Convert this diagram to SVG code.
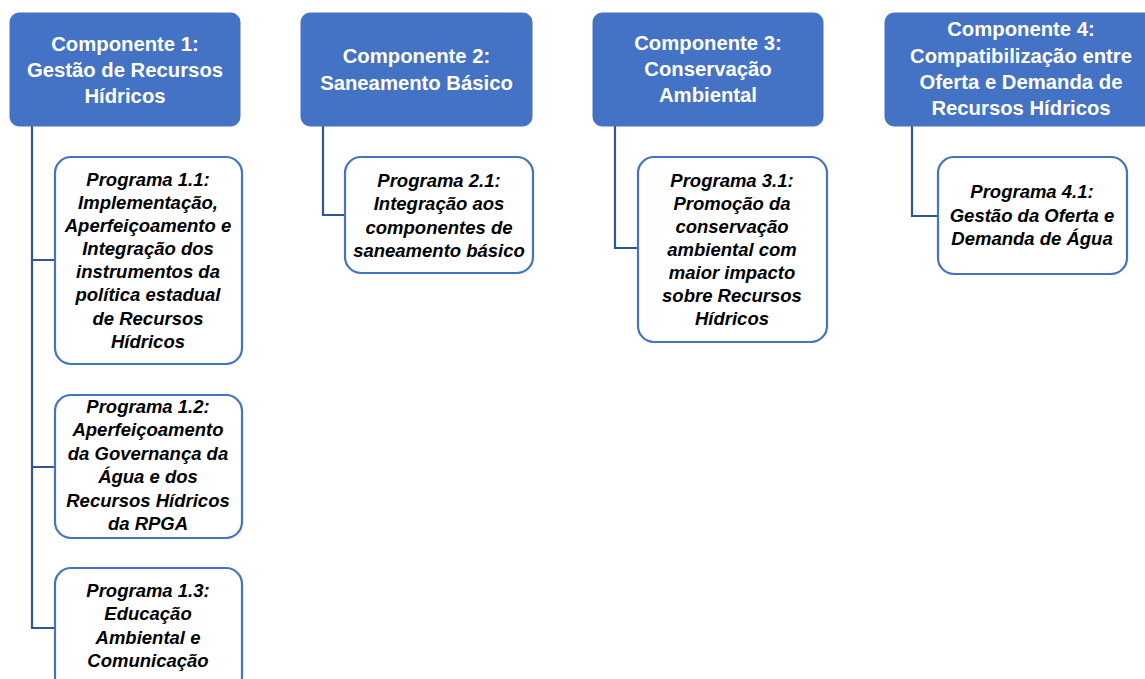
<svg xmlns="http://www.w3.org/2000/svg" width="1145" height="679" viewBox="0 0 1145 679">
<style>
.comp{fill:#4472C4;stroke:#4472C4;stroke-width:1}
.prog{fill:#FFFFFF;stroke:#4472C4;stroke-width:2.2}
.ct{font-family:"Liberation Sans",Arial,sans-serif;font-weight:bold;font-size:20.3px;fill:#FFFFFF;text-anchor:middle}
.pt{font-family:"Liberation Sans",Arial,sans-serif;font-weight:bold;font-style:italic;font-size:18.5px;fill:#000000;text-anchor:middle}
.conn{fill:none;stroke:#2F5597;stroke-width:2.2}
</style>
<rect width="1145" height="679" fill="#FFFFFF"/>
<g id="connectors">
<path class="conn" d="M32,126 V628 H55 M32,260 H55 M32,467 H55"/>
<path class="conn" d="M323,126 V215 H345"/>
<path class="conn" d="M615,126 V248 H638"/>
<path class="conn" d="M912,126 V216 H938"/>
</g>
<g id="comp1">
<rect class="comp" x="10" y="13" width="230" height="113" rx="9"/>
<text class="ct"><tspan x="125" y="51">Componente 1:</tspan><tspan x="125" y="77">Gestão de Recursos</tspan><tspan x="125" y="103">Hídricos</tspan></text>
</g>
<g id="comp2">
<rect class="comp" x="301" y="13" width="231" height="113" rx="9"/>
<text class="ct"><tspan x="416.5" y="63">Componente 2:</tspan><tspan x="416.5" y="90">Saneamento Básico</tspan></text>
</g>
<g id="comp3">
<rect class="comp" x="593" y="13" width="230" height="113" rx="9"/>
<text class="ct"><tspan x="708" y="50">Componente 3:</tspan><tspan x="708" y="76">Conservação</tspan><tspan x="708" y="102">Ambiental</tspan></text>
</g>
<g id="comp4">
<rect class="comp" x="885" y="13" width="275" height="113" rx="9"/>
<text class="ct"><tspan x="1021" y="36">Componente 4:</tspan><tspan x="1021" y="63">Compatibilização entre</tspan><tspan x="1021" y="89">Oferta e Demanda de</tspan><tspan x="1021" y="115">Recursos Hídricos</tspan></text>
</g>
<g id="prog11">
<rect class="prog" x="55" y="157" width="187" height="207" rx="16"/>
<text class="pt"><tspan x="148" y="186">Programa 1.1:</tspan><tspan x="148" y="209">Implementação,</tspan><tspan x="148" y="232">Aperfeiçoamento e</tspan><tspan x="148" y="255">Integração dos</tspan><tspan x="148" y="278">instrumentos da</tspan><tspan x="148" y="301">política estadual</tspan><tspan x="148" y="325">de Recursos</tspan><tspan x="148" y="348">Hídricos</tspan></text>
</g>
<g id="prog12">
<rect class="prog" x="55" y="395" width="187" height="143" rx="16"/>
<text class="pt"><tspan x="148" y="413">Programa 1.2:</tspan><tspan x="148" y="436">Aperfeiçoamento</tspan><tspan x="148" y="460">da Governança da</tspan><tspan x="148" y="483">Água e dos</tspan><tspan x="148" y="507">Recursos Hídricos</tspan><tspan x="148" y="530">da RPGA</tspan></text>
</g>
<g id="prog13">
<rect class="prog" x="55" y="568" width="187" height="125" rx="16"/>
<text class="pt"><tspan x="148" y="597">Programa 1.3:</tspan><tspan x="148" y="620">Educação</tspan><tspan x="148" y="644">Ambiental e</tspan><tspan x="148" y="667">Comunicação</tspan></text>
</g>
<g id="prog21">
<rect class="prog" x="345" y="157" width="188" height="116" rx="16"/>
<text class="pt"><tspan x="439" y="187">Programa 2.1:</tspan><tspan x="439" y="210">Integração aos</tspan><tspan x="439" y="234">componentes de</tspan><tspan x="439" y="257">saneamento básico</tspan></text>
</g>
<g id="prog31">
<rect class="prog" x="638" y="157" width="189" height="185" rx="16"/>
<text class="pt"><tspan x="732" y="187">Programa 3.1:</tspan><tspan x="732" y="210">Promoção da</tspan><tspan x="732" y="233">conservação</tspan><tspan x="732" y="256">ambiental com</tspan><tspan x="732" y="279">maior impacto</tspan><tspan x="732" y="302">sobre Recursos</tspan><tspan x="732" y="325">Hídricos</tspan></text>
</g>
<g id="prog41">
<rect class="prog" x="938" y="157" width="189" height="117" rx="16"/>
<text class="pt"><tspan x="1032" y="198">Programa 4.1:</tspan><tspan x="1032" y="222">Gestão da Oferta e</tspan><tspan x="1032" y="245">Demanda de Água</tspan></text>
</g>
</svg>
